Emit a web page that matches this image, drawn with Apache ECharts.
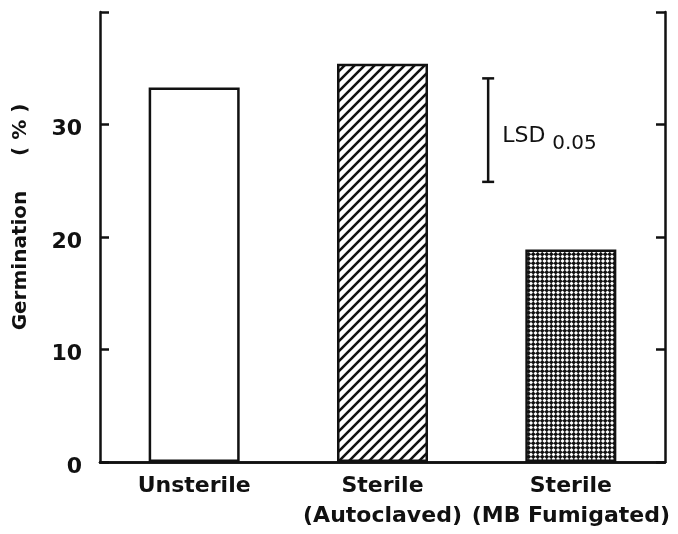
<!DOCTYPE html>
<html>
<head>
<meta charset="utf-8">
<script src="https://cdn.jsdelivr.net/npm/echarts@6/dist/echarts.min.js"></script>
<style>html,body{margin:0;padding:0;background:#fff}#c{width:678px;height:534px}</style>
</head>
<body>
<div id="c"></div>
<script>
// ---- data ----
const categories = ['Unsterile', 'Sterile\n(Autoclaved)', 'Sterile\n(MB Fumigated)'];
const germination = [33.3, 35.4, 18.9];
const yMin = 0, yMax = 40, yStep = 10;
const lsdLow = 24.9;
const lsdHigh = 34.1;
const lsdText = 'LSD';
const lsdSub = '0.05';
const yName = 'Germination     ( % )';

const INK = '#111';
const FONT = '"DejaVu Sans", sans-serif';

function hatchPattern() {
  const c = document.createElement('canvas');
  c.width = c.height = 10;
  const g = c.getContext('2d');
  g.fillStyle = '#fff'; g.fillRect(0, 0, 10, 10);
  g.strokeStyle = INK; g.lineWidth = 2.6; g.lineCap = 'square';
  g.beginPath();
  g.moveTo(-2, 12); g.lineTo(12, -2);
  g.moveTo(-2, 2); g.lineTo(2, -2);
  g.moveTo(8, 12); g.lineTo(12, 8);
  g.stroke();
  return c;
}
function dotPattern() {
  const c = document.createElement('canvas');
  c.width = c.height = 9;
  const g = c.getContext('2d');
  g.fillStyle = '#fff'; g.fillRect(0, 0, 9, 9);
  g.strokeStyle = '#222'; g.lineWidth = 1.1;
  g.beginPath();
  [2.25, 6.75].forEach(p => { g.moveTo(0, p); g.lineTo(9, p); g.moveTo(p, 0); g.lineTo(p, 9); });
  g.stroke();
  g.fillStyle = INK;
  [2.25, 6.75].forEach(px => [2.25, 6.75].forEach(py => {
    g.beginPath(); g.arc(px, py, 1.8, 0, Math.PI * 2); g.fill();
  }));
  return c;
}

const fills = [
  '#fff',
  { image: hatchPattern(), repeat: 'repeat' },
  { image: dotPattern(), repeat: 'repeat' }
];

const LSD_X = 0.687;

const chart = echarts.init(document.getElementById('c'), null, { renderer: 'canvas' });
chart.setOption({
  animation: false,
  backgroundColor: '#fff',
  grid: { left: 100, right: 13, top: 12, bottom: 72 },
  xAxis: [
    {
      type: 'category', data: categories, position: 'bottom',
      axisLine: { lineStyle: { color: INK, width: 2.5 } },
      axisTick: { show: false },
      axisLabel: { color: INK, fontFamily: FONT, fontWeight: 'bold', fontSize: 22, lineHeight: 30, margin: 9, interval: 0 }
    },
    {
      type: 'category', data: categories, position: 'top',
      axisLine: { show: true, lineStyle: { color: INK, width: 2.5 } },
      axisTick: { show: false }, axisLabel: { show: false }
    },
    { type: 'value', min: 0, max: 1, show: false }
  ],
  yAxis: [
    {
      type: 'value', min: yMin, max: yMax, interval: yStep, position: 'left',
      axisLine: { show: true, lineStyle: { color: INK, width: 2.5 } },
      axisTick: { show: true, inside: true, length: 9, lineStyle: { color: INK, width: 2.5 } },
      splitLine: { show: false },
      axisLabel: {
        color: INK, margin: 18,
        formatter: v => (v === yMax ? '' : '{n|' + v + '}'),
        rich: { n: { color: INK, fontFamily: FONT, fontWeight: 'bold', fontSize: 22, padding: [10, 0, 0, 0] } }
      }
    },
    {
      type: 'value', min: yMin, max: yMax, interval: yStep, position: 'right',
      axisLine: { show: true, lineStyle: { color: INK, width: 2.5 } },
      axisTick: { show: true, inside: true, length: 9, lineStyle: { color: INK, width: 2.5 } },
      splitLine: { show: false }, axisLabel: { show: false }
    }
  ],
  graphic: [{
    type: 'text', x: 21, y: 217, rotation: Math.PI / 2,
    style: { text: yName, fill: INK, font: 'bold 20px ' + FONT, align: 'center', verticalAlign: 'middle' }
  }],
  series: [
    {
      type: 'bar', xAxisIndex: 0, yAxisIndex: 0, barWidth: 91,
      data: germination.map((v, i) => ({
        value: v,
        itemStyle: { color: fills[i], borderColor: INK, borderWidth: 2.5 }
      }))
    },
    {
      type: 'custom', xAxisIndex: 2, yAxisIndex: 0,
      data: [[LSD_X, lsdLow, lsdHigh]],
      encode: { x: 0, y: [1, 2] },
      renderItem: (params, api) => {
        const t = api.coord([api.value(0), api.value(2)]);
        const b = api.coord([api.value(0), api.value(1)]);
        const x = t[0], mid = (t[1] + b[1]) / 2;
        const ls = { stroke: INK, lineWidth: 2.5 };
        return {
          type: 'group', children: [
            { type: 'line', shape: { x1: x, y1: t[1], x2: x, y2: b[1] }, style: ls },
            { type: 'line', shape: { x1: x - 6, y1: t[1], x2: x + 6, y2: t[1] }, style: ls },
            { type: 'line', shape: { x1: x - 6, y1: b[1], x2: x + 6, y2: b[1] }, style: ls },
            { type: 'text', style: { text: lsdText, x: x + 14, y: mid + 6, fill: INK, font: '22px ' + FONT, align: 'left', verticalAlign: 'middle' } },
            { type: 'text', style: { text: lsdSub, x: x + 64, y: mid + 14, fill: INK, font: '20px ' + FONT, align: 'left', verticalAlign: 'middle' } }
          ]
        };
      }
    }
  ]
});
</script>
</body>
</html>
